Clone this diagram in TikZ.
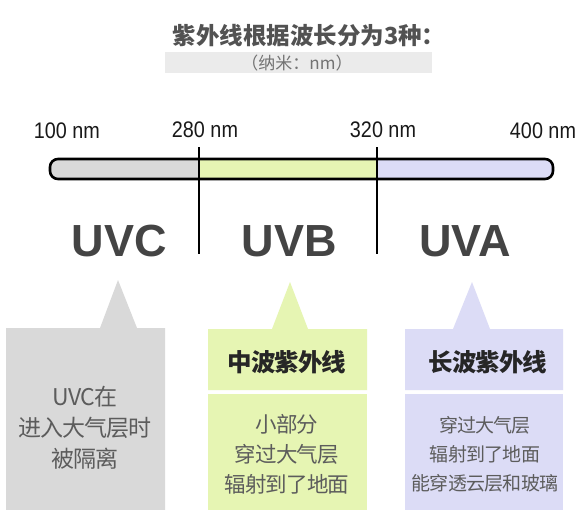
\documentclass[tikz,border=0pt]{standalone}
\usepackage{fontspec}
\setmainfont{Liberation Sans}
\newfontfamily\cjk{Noto Sans CJK SC}
\newfontfamily\cjktight[LetterSpace=-4]{Noto Sans CJK SC}
\newfontfamily\nmfont[FakeStretch=0.88]{Liberation Sans}
\definecolor{txtdark}{HTML}{444444}
\definecolor{txtgray}{HTML}{5C5C5C}
\definecolor{uvcgray}{HTML}{D9D9D9}
\definecolor{uvbgreen}{HTML}{E6F5B3}
\definecolor{uvapurple}{HTML}{DCDCF6}
\definecolor{subbox}{HTML}{EBEBEB}
\tikzset{
  nmlabel/.style={font=\nmfont\fontsize{22.5}{25}\selectfont, text=black!90, inner sep=0pt},
  bigname/.style={font=\bfseries\fontsize{45}{50}\selectfont, text=txtdark, inner sep=0pt},
  head/.style={font=\cjktight\bfseries\fontsize{24.5}{28}\selectfont, text=black!85, inner sep=0pt},
  body/.style={font=\cjktight\fontsize{21.5}{30}\selectfont, text=txtgray, align=center, inner sep=0pt},
  bodysm/.style={font=\cjktight\fontsize{19}{29}\selectfont, text=txtgray, align=center, inner sep=0pt},
  divider/.style={line width=1.4pt, draw=black},
}
\begin{document}
\begin{tikzpicture}[x=1pt,y=-1pt]
\useasboundingbox (0,0) rectangle (586,509);
\fill[white] (0,0) rectangle (586,509);
% title
\node[font=\cjk\bfseries\fontsize{23.5}{28}\selectfont, text=black!68, inner sep=0pt] (title) at (309,36) {紫外线根据波长分为3种：};
\fill[subbox] (165,52) rectangle (432,73);
\node[font=\cjk\fontsize{17}{20}\selectfont, text=black!55, inner sep=0pt] (sub) at (297,63) {（纳米：nm）};
% wavelength labels
\node[nmlabel] (l100) at (67,131) {100 nm};
\node[nmlabel] (l280) at (205,130) {280 nm};
\node[nmlabel] (l320) at (383,130) {320 nm};
\node[nmlabel] (l400) at (543,131) {400 nm};
% bar
\begin{scope}
\clip[rounded corners=8pt] (50,159) rectangle (553,179);
\fill[uvcgray] (50,159) rectangle (199,179);
\fill[uvbgreen] (199,159) rectangle (377,179);
\fill[uvapurple] (377,159) rectangle (553,179);
\end{scope}
\draw[line width=2.6pt, rounded corners=8pt] (50,159) rectangle (553,179);
\coordinate (d1t) at (199,147);
\coordinate (d1b) at (199,254);
\coordinate (d2t) at (377,147);
\coordinate (d2b) at (377,254);
\draw[divider] (d1t) -- (d1b);
\draw[divider] (d2t) -- (d2b);
% big names
\node[bigname] (uvc) at (119.5,241) {UVC};
\node[bigname] (uvb) at (289.5,241) {UVB};
\node[bigname] (uva) at (465,241) {UVA};
% callouts
\fill[uvcgray] (6,512) -- (6,328) -- (100,328) -- (118,280) -- (137,328) -- (165,328) -- (165,512) -- cycle;
\fill[uvbgreen] (208,390) -- (208,329) -- (272,329) -- (290,282) -- (308,329) -- (367,329) -- (367,390) -- cycle;
\fill[uvbgreen] (208,394) rectangle (367,512);
\fill[uvapurple] (405,390) -- (405,329) -- (453,329) -- (472,282) -- (490,329) -- (563,329) -- (563,390) -- cycle;
\fill[uvapurple] (405,394) rectangle (563,512);
% callout texts
\node[body, font=\cjktight\fontsize{23}{31}\selectfont] (ctext) at (85,428) {UVC在\\进入大气层时\\被隔离};
\node[head] (bhead) at (287,362) {中波紫外线};
\node[body] (btext) at (287,454) {小部分\\穿过大气层\\辐射到了地面};
\node[head] (ahead) at (488,362) {长波紫外线};
\node[bodysm] (atext) at (485,454) {穿过大气层\\辐射到了地面\\能穿透云层和玻璃};
\end{tikzpicture}
\end{document}
